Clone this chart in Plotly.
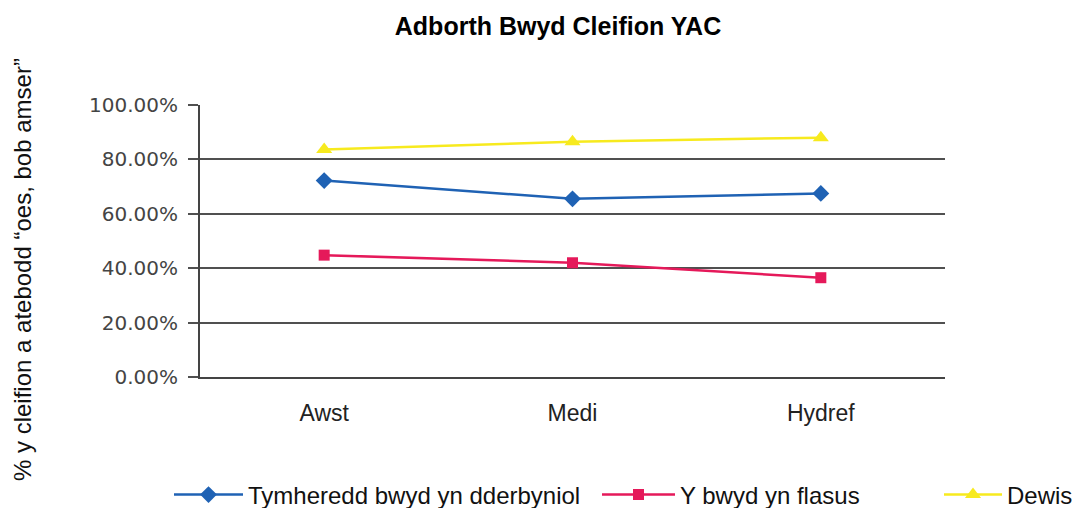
import plotly.graph_objects as go

categories = ["Awst", "Medi", "Hydref"]
tymheredd = [0.722, 0.655, 0.675]
blasus = [0.448, 0.42, 0.365]
dewis = [0.836, 0.865, 0.88]
series_names = ["Tymheredd bwyd yn dderbyniol", "Y bwyd yn flasus", "Dewis"]
y_ticks = [0, 0.2, 0.4, 0.6, 0.8, 1.0]
y_tick_labels = ["0.00%", "20.00%", "40.00%", "60.00%", "80.00%", "100.00%"]

W, H = 1077, 508
L, R, T, B = 200, 132, 105, 131
pw = W - L - R
ph = H - T - B

def px_to_paper_x(px):
    return (px - L) / pw

def px_to_paper_y(py):
    return (H - B - py) / ph

ARIAL = "Liberation Sans, Arial, sans-serif"

fig = go.Figure()
fig.add_trace(go.Scatter(x=categories, y=tymheredd, name=series_names[0], mode="lines+markers",
                         line=dict(color="#1F62B4", width=2.5),
                         marker=dict(symbol="diamond", size=13, color="#1F62B4"), legend="legend"))
fig.add_trace(go.Scatter(x=categories, y=blasus, name=series_names[1], mode="lines+markers",
                         line=dict(color="#E5195A", width=2.5),
                         marker=dict(symbol="square", size=11, color="#E5195A"), legend="legend2"))
fig.add_trace(go.Scatter(x=categories, y=dewis, name=series_names[2], mode="lines+markers",
                         line=dict(color="#F7EA1E", width=2.5),
                         marker=dict(symbol="triangle-up", size=14, color="#F7EA1E"), legend="legend3"))

leg_common = dict(orientation="h", xanchor="left", yanchor="middle", bgcolor="rgba(0,0,0,0)",
                  font=dict(family=ARIAL, size=24, color="#111"),
                  xref="paper", yref="paper")

fig.update_layout(
    width=W, height=H,
    margin=dict(l=L, r=R, t=T, b=B, autoexpand=False),
    paper_bgcolor="white", plot_bgcolor="white",
    title=dict(text="<b>Adborth Bwyd Cleifion YAC</b>", x=558 / W, xref="container", xanchor="center",
               y=1 - 26 / H, yref="container", yanchor="middle",
               font=dict(family=ARIAL, size=25, color="#000")),
    xaxis=dict(type="category", range=[-0.5, 2.5], showgrid=False, showline=True, linecolor="#444",
               linewidth=2, ticks="", ticklabelstandoff=14,
               tickfont=dict(family=ARIAL, size=23, color="#222")),
    yaxis=dict(range=[0, 1.0], tickvals=y_ticks, ticktext=y_tick_labels, showgrid=True,
               gridcolor="#505050", gridwidth=2, showline=True, linecolor="#444", linewidth=2,
               ticks="outside", ticklen=10, tickcolor="#505050", tickwidth=2, zeroline=False,
               ticklabelstandoff=6,
               tickfont=dict(family="DejaVu Sans, Verdana, sans-serif", size=20, color="#444")),
    showlegend=True,
    legend=dict(x=px_to_paper_x(169), y=px_to_paper_y(495), itemwidth=69, **leg_common),
    legend2=dict(x=px_to_paper_x(597), y=px_to_paper_y(495), itemwidth=73, **leg_common),
    legend3=dict(x=px_to_paper_x(939), y=px_to_paper_y(495), itemwidth=58, **leg_common),
    annotations=[dict(text="% y cleifion a atebodd \u201coes, bob amser\u201d", textangle=-90,
                      xref="paper", yref="paper", x=px_to_paper_x(22), y=px_to_paper_y(270),
                      xanchor="center", yanchor="middle", showarrow=False,
                      font=dict(family=ARIAL, size=24, color="#111"))],
)

fig.write_html("out.html", config={"displayModeBar": False},
               post_script="document.body.style.margin='0';")
